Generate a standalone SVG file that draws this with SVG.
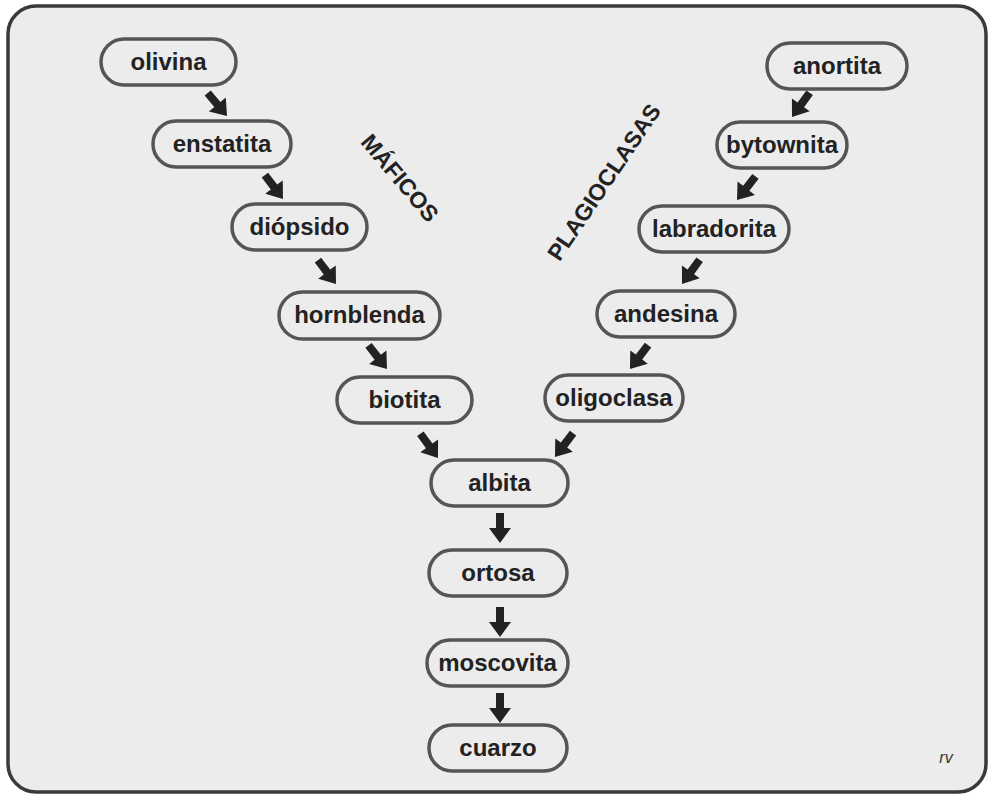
<svg xmlns="http://www.w3.org/2000/svg" xmlns:xlink="http://www.w3.org/1999/xlink" width="990" height="799" viewBox="0 0 990 799">
<style>
.node rect{fill:#ececec;stroke:#555555;stroke-width:3.5}
.node text{font-family:"Liberation Sans",Arial,sans-serif;font-weight:bold;font-size:24px;fill:#222222;text-anchor:middle}
.lbl{font-family:"Liberation Sans",Arial,sans-serif;font-weight:bold;font-size:23px;fill:#222222;text-anchor:middle}
.arr{fill:#222222}
</style>
<defs>
<path id="arr" class="arr" d="M-4,-30 L4,-30 L4,-15 L11,-15 L0,0 L-11,-15 L-4,-15 Z"/>
</defs>
<rect x="8" y="6" width="978" height="786" rx="28" fill="#ececec" stroke="#3a3a3a" stroke-width="3.5"/>
<g id="connectors">
<use xlink:href="#arr" transform="translate(227,116) rotate(-40)"/>
<use xlink:href="#arr" transform="translate(283,199) rotate(-37)"/>
<use xlink:href="#arr" transform="translate(336,284) rotate(-37)"/>
<use xlink:href="#arr" transform="translate(387,369) rotate(-38)"/>
<use xlink:href="#arr" transform="translate(438,458) rotate(-36)"/>
<use xlink:href="#arr" transform="translate(555,457) rotate(37)"/>
<use xlink:href="#arr" transform="translate(630,369) rotate(37)"/>
<use xlink:href="#arr" transform="translate(682,284) rotate(36)"/>
<use xlink:href="#arr" transform="translate(737,200) rotate(38)"/>
<use xlink:href="#arr" transform="translate(792,117) rotate(36)"/>
<use xlink:href="#arr" transform="translate(500,543)"/>
<use xlink:href="#arr" transform="translate(500,637)"/>
<use xlink:href="#arr" transform="translate(500,723)"/>
</g>
<g id="olivina" class="node"><rect x="101" y="39" width="135" height="46" rx="23"/><text x="168.5" y="70">olivina</text></g>
<g id="enstatita" class="node"><rect x="153" y="121" width="138" height="46" rx="23"/><text x="222" y="152">enstatita</text></g>
<g id="diopsido" class="node"><rect x="232" y="204" width="135" height="46" rx="23"/><text x="299.5" y="235">diópsido</text></g>
<g id="hornblenda" class="node"><rect x="279" y="292" width="161" height="47" rx="23.5"/><text x="359.5" y="323">hornblenda</text></g>
<g id="biotita" class="node"><rect x="337" y="377" width="135" height="46" rx="23"/><text x="404.5" y="408">biotita</text></g>
<g id="albita" class="node"><rect x="431" y="460" width="137" height="46" rx="23"/><text x="499.5" y="491">albita</text></g>
<g id="ortosa" class="node"><rect x="429" y="550" width="138" height="46" rx="23"/><text x="498" y="581">ortosa</text></g>
<g id="moscovita" class="node"><rect x="427" y="640" width="141" height="46" rx="23"/><text x="497.5" y="671">moscovita</text></g>
<g id="cuarzo" class="node"><rect x="429" y="725" width="138" height="46" rx="23"/><text x="498" y="756">cuarzo</text></g>
<g id="oligoclasa" class="node"><rect x="545" y="375" width="138" height="46" rx="23"/><text x="614" y="406">oligoclasa</text></g>
<g id="andesina" class="node"><rect x="597" y="291" width="138" height="46" rx="23"/><text x="666" y="322">andesina</text></g>
<g id="labradorita" class="node"><rect x="639" y="206" width="150" height="46" rx="23"/><text x="714" y="237">labradorita</text></g>
<g id="bytownita" class="node"><rect x="717" y="122" width="130" height="46" rx="23"/><text x="782" y="153">bytownita</text></g>
<g id="anortita" class="node"><rect x="767" y="43" width="140" height="46" rx="23"/><text x="837" y="74">anortita</text></g>
<text class="lbl" transform="translate(400,178) rotate(50)" y="8">MÁFICOS</text>
<text class="lbl" transform="translate(604,182) rotate(-56)" y="8">PLAGIOCLASAS</text>
<text x="946" y="763" font-family="'Liberation Sans',Arial,sans-serif" font-style="italic" font-size="16" fill="#333333" text-anchor="middle">rv</text>
</svg>
